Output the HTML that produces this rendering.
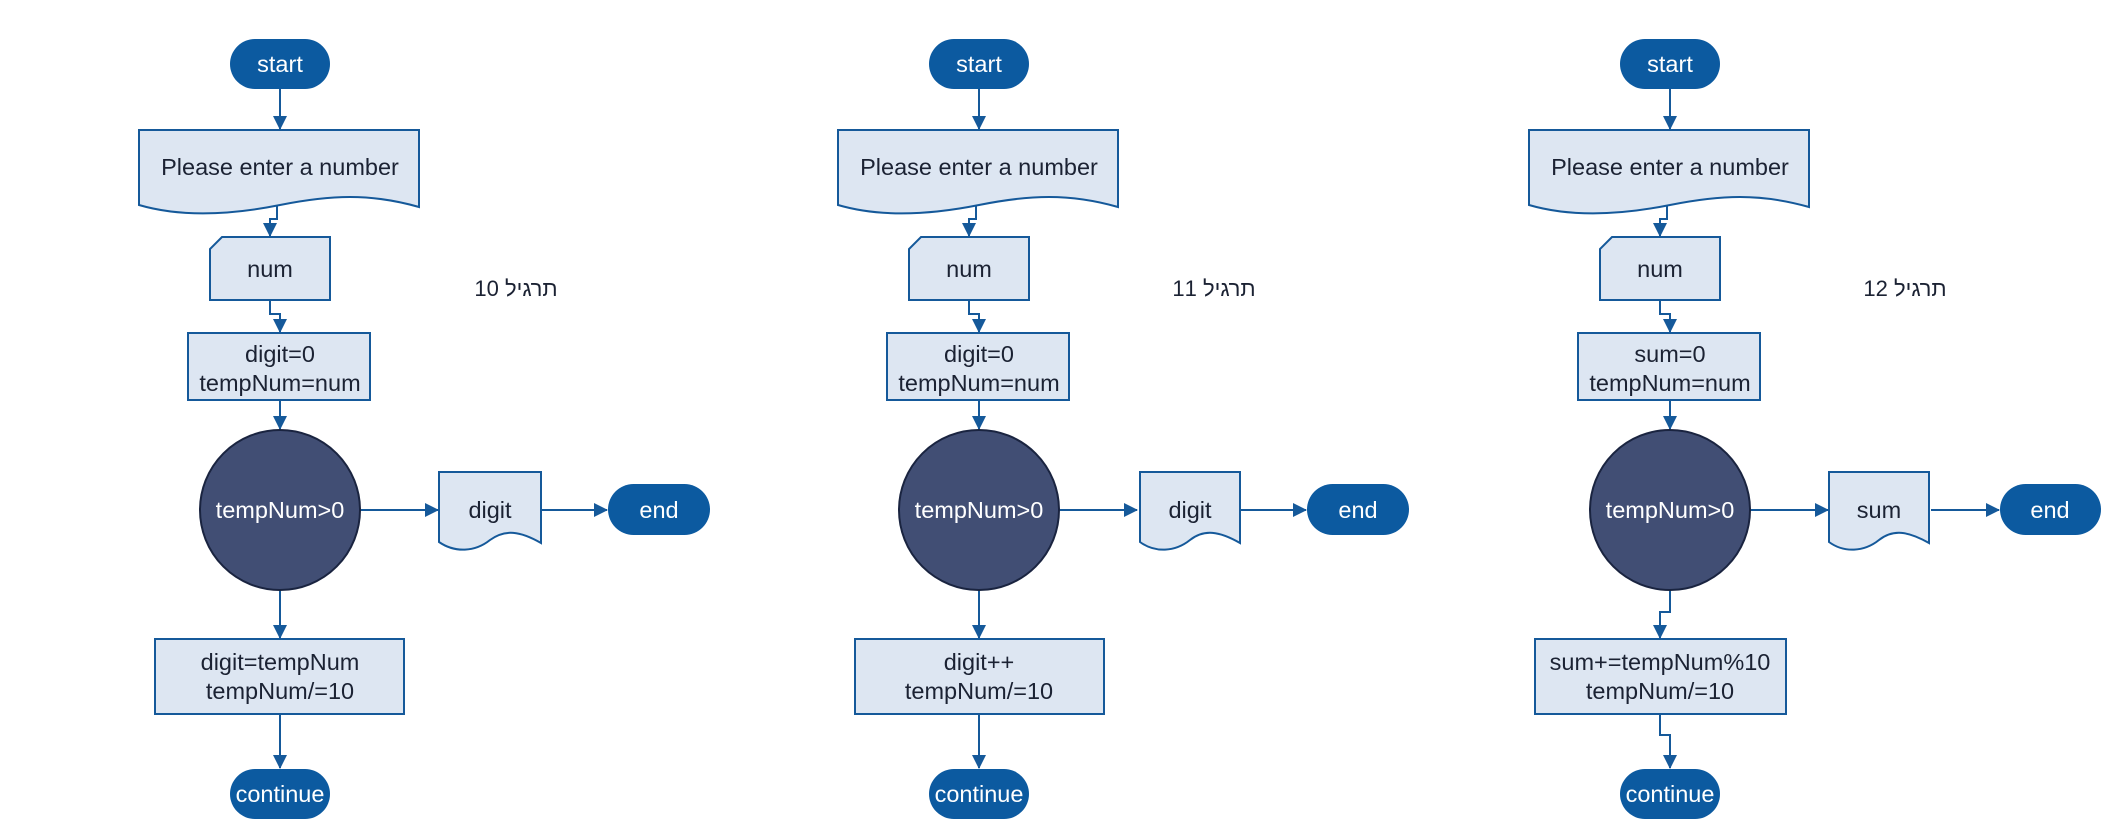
<!DOCTYPE html>
<html><head><meta charset="utf-8"><style>
html,body{margin:0;padding:0;background:#fff;}
svg{display:block;}
text{font-family:"Liberation Sans",Arial,sans-serif;font-size:23.5px;}
</style></head><body>
<svg width="2120" height="840" viewBox="0 0 2120 840" xmlns="http://www.w3.org/2000/svg">
<defs>
<marker id="a" markerWidth="14" markerHeight="14" refX="13" refY="7" orient="auto" markerUnits="userSpaceOnUse">
<path d="M0,0 L14,7 L0,14 Z" fill="#15599a"/></marker>
</defs>

<g id="p1">
<g stroke="#15599a" stroke-width="2" fill="none" marker-end="url(#a)">
<path d="M280,89 V129"/>
<path d="M277,202 V219 H270 V236"/>
<path d="M270,300 V314 H280 V332"/>
<path d="M280,400 V429"/>
<path d="M360,510 H438"/>
<path d="M541,510 H607"/>
<path d="M280,590 V638"/>
<path d="M280,714 V768"/>
</g>
<rect x="230" y="39" width="100" height="50" rx="25" fill="#0c5aa0"/>
<text x="280" y="72" fill="#fff" text-anchor="middle">start</text>
<path d="M139,130 H419 V207 C370,193 330,195 280,205 C230,215 180,217 139,205 Z" fill="#dde6f2" stroke="#15599a" stroke-width="2"/>
<text x="280" y="175" fill="#1b2233" text-anchor="middle">Please enter a number</text>
<path d="M222,237 H330 V300 H210 V249 Z" fill="#dde6f2" stroke="#15599a" stroke-width="2"/>
<text x="270" y="277" fill="#1b2233" text-anchor="middle">num</text>
<rect x="188" y="333" width="182" height="67" fill="#dde6f2" stroke="#15599a" stroke-width="2"/>
<circle cx="280" cy="510" r="80" fill="#414e74" stroke="#1a2440" stroke-width="2"/>
<text x="280" y="518" fill="#fff" text-anchor="middle">tempNum&gt;0</text>
<rect x="608" y="484" width="102" height="51" rx="25.5" fill="#0c5aa0"/>
<text x="659" y="518" fill="#fff" text-anchor="middle">end</text>
<rect x="230" y="769" width="100" height="50" rx="25" fill="#0c5aa0"/>
<text x="280" y="802" fill="#fff" text-anchor="middle">continue</text>
</g>

<text x="280" y="362" fill="#1b2233" text-anchor="middle">digit=0</text>
<text x="280" y="391" fill="#1b2233" text-anchor="middle">tempNum=num</text>
<path d="M439,472 H541 V543 C520,531 505,529 490,540 C475,552 455,553 439,542 Z" fill="#dde6f2" stroke="#15599a" stroke-width="2"/>
<text x="490" y="518" fill="#1b2233" text-anchor="middle">digit</text>
<rect x="155" y="639" width="249" height="75" fill="#dde6f2" stroke="#15599a" stroke-width="2"/>
<text x="280" y="670" fill="#1b2233" text-anchor="middle">digit=tempNum</text>
<text x="280" y="699" fill="#1b2233" text-anchor="middle">tempNum/=10</text>
<text x="516" y="296" fill="#1b2233" text-anchor="middle" style="font-size:22px">תרגיל 10</text>

<use href="#p1" transform="translate(699,0)"/>
<text x="979" y="362" fill="#1b2233" text-anchor="middle">digit=0</text>
<text x="979" y="391" fill="#1b2233" text-anchor="middle">tempNum=num</text>
<path d="M1140,472 H1240 V543 C1219,531 1204,529 1190,540 C1175,552 1155,553 1140,542 Z" fill="#dde6f2" stroke="#15599a" stroke-width="2"/>
<text x="1190" y="518" fill="#1b2233" text-anchor="middle">digit</text>
<rect x="855" y="639" width="249" height="75" fill="#dde6f2" stroke="#15599a" stroke-width="2"/>
<text x="979" y="670" fill="#1b2233" text-anchor="middle">digit++</text>
<text x="979" y="699" fill="#1b2233" text-anchor="middle">tempNum/=10</text>
<text x="1214" y="296" fill="#1b2233" text-anchor="middle" style="font-size:22px">תרגיל 11</text>

<g transform="translate(1390,0)">
<g stroke="#15599a" stroke-width="2" fill="none" marker-end="url(#a)">
<path d="M280,89 V129"/>
<path d="M277,202 V219 H270 V236"/>
<path d="M270,300 V314 H280 V332"/>
<path d="M280,400 V429"/>
<path d="M360,510 H438"/>
<path d="M541,510 H609"/>
<path d="M280,590 V612 H270 V638"/>
<path d="M270,714 V735 H280 V768"/>
</g>
<rect x="230" y="39" width="100" height="50" rx="25" fill="#0c5aa0"/>
<text x="280" y="72" fill="#fff" text-anchor="middle">start</text>
<path d="M139,130 H419 V207 C370,193 330,195 280,205 C230,215 180,217 139,205 Z" fill="#dde6f2" stroke="#15599a" stroke-width="2"/>
<text x="280" y="175" fill="#1b2233" text-anchor="middle">Please enter a number</text>
<path d="M222,237 H330 V300 H210 V249 Z" fill="#dde6f2" stroke="#15599a" stroke-width="2"/>
<text x="270" y="277" fill="#1b2233" text-anchor="middle">num</text>
<rect x="188" y="333" width="182" height="67" fill="#dde6f2" stroke="#15599a" stroke-width="2"/>
<text x="280" y="362" fill="#1b2233" text-anchor="middle">sum=0</text>
<text x="280" y="391" fill="#1b2233" text-anchor="middle">tempNum=num</text>
<circle cx="280" cy="510" r="80" fill="#414e74" stroke="#1a2440" stroke-width="2"/>
<text x="280" y="518" fill="#fff" text-anchor="middle">tempNum&gt;0</text>
<path d="M439,472 H539 V543 C518,531 503,529 489,540 C474,552 454,553 439,542 Z" fill="#dde6f2" stroke="#15599a" stroke-width="2"/>
<text x="489" y="518" fill="#1b2233" text-anchor="middle">sum</text>
<rect x="610" y="484" width="101" height="51" rx="25.5" fill="#0c5aa0"/>
<text x="660" y="518" fill="#fff" text-anchor="middle">end</text>
<rect x="145" y="639" width="251" height="75" fill="#dde6f2" stroke="#15599a" stroke-width="2"/>
<text x="270" y="670" fill="#1b2233" text-anchor="middle">sum+=tempNum%10</text>
<text x="270" y="699" fill="#1b2233" text-anchor="middle">tempNum/=10</text>
<rect x="230" y="769" width="100" height="50" rx="25" fill="#0c5aa0"/>
<text x="280" y="802" fill="#fff" text-anchor="middle">continue</text>
<text x="515" y="296" fill="#1b2233" text-anchor="middle" style="font-size:22px">תרגיל 12</text>
</g>
</svg>
</body></html>
